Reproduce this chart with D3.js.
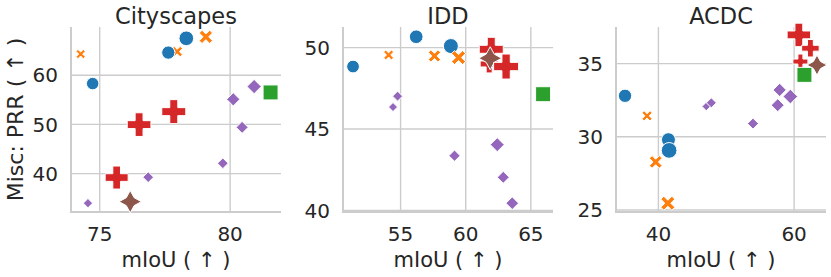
<!DOCTYPE html>
<html><head><meta charset="utf-8">
<script src="https://cdn.jsdelivr.net/npm/d3@7"></script>
<style>body{margin:0;background:#fff}svg{display:block}text{font-family:"DejaVu Sans",sans-serif;fill:#262626}</style>
</head><body><svg id="c" width="831" height="277"></svg>
<script>
// ---- data ----
const datasets = ["Cityscapes", "IDD", "ACDC"];
const methods = ["A", "B", "C", "D", "E", "F"];
const methodColors = ["#1f77b4", "#ff7f0e", "#2ca02c", "#d62728", "#9467bd", "#8c564b"];
const methodShapes = ["circle", "x", "square", "plus", "diamond", "star"];
const xLabel = "mIoU ( \u2191 )";
const yLabel = "Misc: PRR ( \u2191 )";
const xTicks = [[75, 80], [55, 60, 65], [40, 60]];
const yTicks = [[40, 50, 60], [40, 45, 50], [25, 30, 35]];
const xDomains = [[73.9, 81.95], [50.58, 66.7], [33.75, 64.7]];
const yDomains = [[32.2, 69.8], [39.9, 51.27], [24.86, 37.5]];
// [method, mIoU, PRR, size]
const cityscapes = [
  ["B", 74.27, 64.3, 9.3], ["B", 77.97, 64.8, 10.5], ["B", 79.07, 67.8, 13.3],
  ["A", 74.73, 58.3, 12.5], ["A", 77.63, 64.6, 13.3], ["A", 78.32, 67.5, 14.7],
  ["E", 74.55, 34.0, 9.3], ["E", 76.86, 39.27, 10.7], ["E", 79.72, 42.1, 10.7],
  ["E", 80.46, 49.4, 12], ["E", 80.12, 55.1, 13.3], ["E", 80.92, 57.7, 14.3],
  ["D", 75.65, 39.2, 23], ["D", 76.51, 49.96, 23.7], ["D", 77.84, 52.6, 24],
  ["F", 76.17, 34.3, 22.3], ["C", 81.55, 56.5, 15]
];
const idd = [
  ["A", 51.35, 48.84, 12.7], ["A", 56.2, 50.67, 13.7], ["A", 58.86, 50.1, 15],
  ["B", 54.08, 49.55, 10], ["B", 57.6, 49.49, 12.3], ["B", 59.45, 49.39, 14],
  ["E", 54.77, 47.02, 10], ["E", 54.42, 46.35, 9], ["E", 59.14, 43.36, 11.3],
  ["E", 62.42, 44.04, 14], ["E", 62.88, 42.03, 12], ["E", 63.57, 40.44, 12.7],
  ["D", 61.96, 49.9, 24], ["D", 61.8, 49.0, 18], ["F", 61.88, 49.35, 23],
  ["D", 63.1, 48.84, 25], ["C", 65.94, 47.14, 15]
];
const acdc = [
  ["A", 35.08, 32.8, 13.3], ["A", 41.48, 29.8, 14], ["A", 41.58, 29.07, 15.7],
  ["B", 38.33, 31.43, 10.3], ["B", 39.6, 28.28, 12.7], ["B", 41.39, 25.46, 14],
  ["E", 47.05, 32.07, 8.5], ["E", 47.8, 32.32, 10], ["E", 53.94, 30.9, 11],
  ["E", 57.58, 32.16, 13], ["E", 57.87, 33.2, 13.3], ["E", 59.45, 32.75, 14.7],
  ["D", 60.7, 36.96, 23.5], ["D", 62.4, 36.05, 17.5], ["D", 60.93, 35.14, 15],
  ["F", 63.37, 34.9, 20], ["C", 61.52, 34.23, 15]
];
const panelData = [cityscapes, idd, acdc];

// ---- layout ----
const W = 831, H = 277;
const axLeft = [71, 343, 616], axW = 210, axTop = 27, axBottom = 212;
const svg = d3.select("#c");

function markerPath(shape, E) {
  const p = [];
  if (shape === "circle") {
    const r = E / 2;
    return `M${r},0A${r},${r} 0 1,1 ${-r},0A${r},${r} 0 1,1 ${r},0Z`;
  }
  if (shape === "square") {
    const s = E / 2;
    p.push([-s, -s], [s, -s], [s, s], [-s, s]);
  } else if (shape === "diamond") {
    const s = E / 2;
    p.push([0, -s], [s, 0], [0, s], [-s, 0]);
  } else if (shape === "star") {
    const R = E / 2, r = R * 0.5;
    for (let i = 0; i < 8; i++) {
      const a = -Math.PI / 2 + i * Math.PI / 4;
      const rr = i % 2 === 0 ? R : r;
      p.push([rr * Math.cos(a), rr * Math.sin(a)]);
    }
  } else {
    let L, h, rot;
    if (shape === "plus") { L = E / 2; h = E / 6; rot = 0; }
    else { h = 0.15 * E; L = E / Math.SQRT2 - h; rot = Math.PI / 4; }
    const base = [[h, L], [h, h], [L, h], [L, -h], [h, -h], [h, -L], [-h, -L], [-h, -h], [-L, -h], [-L, h], [-h, h], [-h, L]];
    const c = Math.cos(rot), s = Math.sin(rot);
    base.forEach(([x, y]) => p.push([x * c - y * s, x * s + y * c]));
  }
  return "M" + p.map(d => d[0].toFixed(2) + "," + d[1].toFixed(2)).join("L") + "Z";
}

const sizeScale = d3.scaleLinear().domain([0, 25]).range([0, 25]);
const colorScale = d3.scaleOrdinal().domain(methods).range(methodColors);
const shapeScale = d3.scaleOrdinal().domain(methods).range(methodShapes);

datasets.forEach((name, i) => {
  const x = d3.scaleLinear().domain(xDomains[i]).range([axLeft[i], axLeft[i] + axW]);
  const y = d3.scaleLinear().domain(yDomains[i]).range([axBottom, axTop]);
  const g = svg.append("g");
  // grid
  g.selectAll(".vg").data(xTicks[i]).join("line")
    .attr("x1", d => x(d)).attr("x2", d => x(d)).attr("y1", axTop).attr("y2", axBottom)
    .attr("stroke", "#cccccc").attr("stroke-width", 1.4);
  g.selectAll(".hg").data(yTicks[i]).join("line")
    .attr("y1", d => y(d)).attr("y2", d => y(d)).attr("x1", axLeft[i]).attr("x2", axLeft[i] + axW)
    .attr("stroke", "#cccccc").attr("stroke-width", 1.4);
  // spines
  g.append("line").attr("x1", axLeft[i]).attr("x2", axLeft[i]).attr("y1", axTop).attr("y2", axBottom + 1)
    .attr("stroke", "#cccccc").attr("stroke-width", 2);
  g.append("line").attr("x1", axLeft[i] - 1).attr("x2", axLeft[i] + axW).attr("y1", axBottom).attr("y2", axBottom)
    .attr("stroke", "#cccccc").attr("stroke-width", 2);
  // tick labels
  g.selectAll(".xt").data(xTicks[i]).join("text")
    .attr("x", d => x(d)).attr("y", 241).attr("text-anchor", "middle")
    .attr("font-size", 20).text(d => d);
  g.selectAll(".yt").data(yTicks[i]).join("text")
    .attr("x", axLeft[i] - 13).attr("y", d => y(d)).attr("dy", "0.36em").attr("text-anchor", "end")
    .attr("font-size", 20).text(d => d);
  // title
  g.append("text").attr("x", axLeft[i] + axW / 2).attr("y", 24).attr("text-anchor", "middle")
    .attr("font-size", 22.5).text(name);
  // x label
  g.append("text").attr("x", axLeft[i] + axW / 2).attr("y", 267).attr("text-anchor", "middle")
    .attr("font-size", 21).text(xLabel);
  // points
  g.selectAll(".pt").data(panelData[i]).join("path")
    .attr("transform", d => `translate(${x(d[1])},${y(d[2])})`)
    .attr("d", d => markerPath(shapeScale(d[0]), sizeScale(d[3])))
    .attr("fill", d => colorScale(d[0]))
    .attr("stroke", "#fff").attr("stroke-width", 1);
});
svg.append("text").attr("transform", `translate(23,${(axTop + axBottom) / 2}) rotate(-90)`)
  .attr("text-anchor", "middle").attr("font-size", 22).text(yLabel);
</script></body></html>
